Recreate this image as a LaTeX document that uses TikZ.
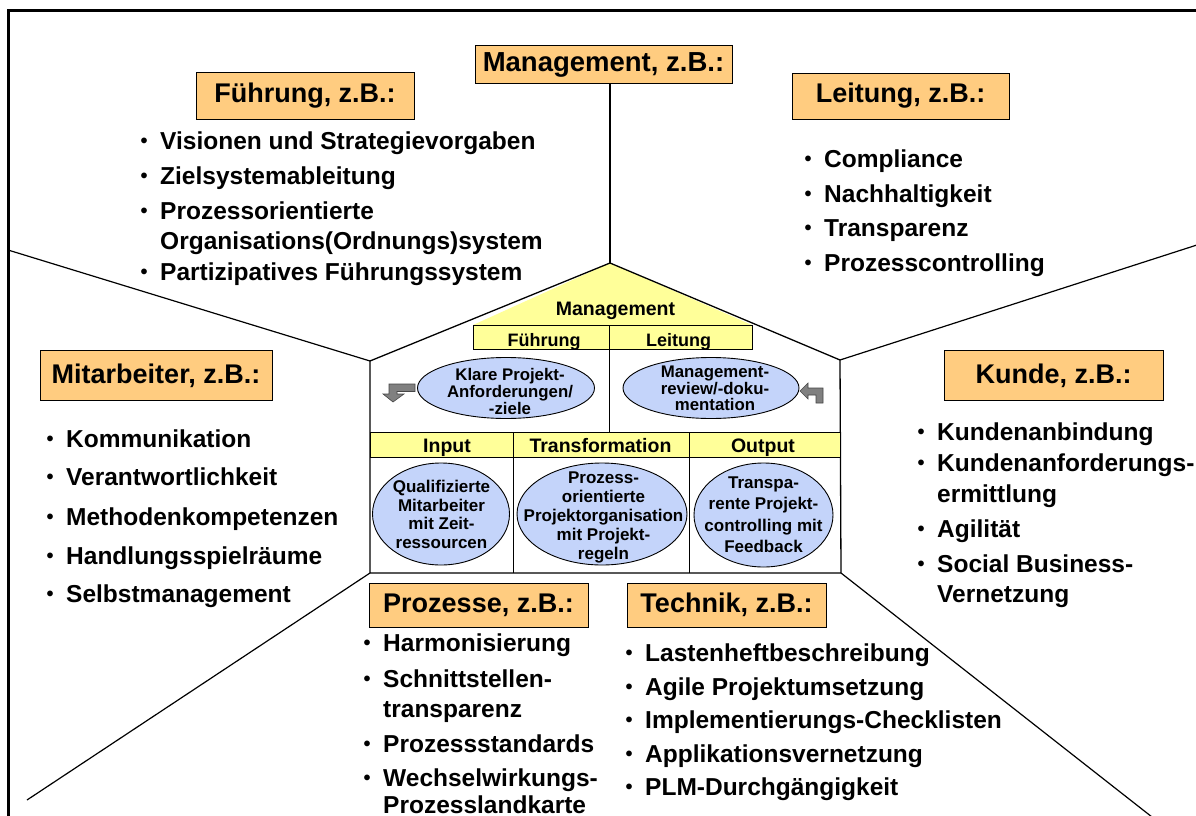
\documentclass[tikz,border=0pt]{standalone}
\usepackage{fontspec}
\setmainfont{Liberation Sans}
\usetikzlibrary{shapes.geometric}
\definecolor{hdorange}{RGB}{255,204,128}
\definecolor{hsyellow}{RGB}{255,255,153}
\definecolor{elblue}{RGB}{196,212,250}
\definecolor{argray}{RGB}{128,128,128}
\definecolor{ardark}{RGB}{70,70,70}
\newcommand{\listline}[4]{\node[litem] (#1) at (#2,#3) {#4};}
\newcommand{\smallbullet}{\raisebox{1.3pt}{\fontsize{20}{20}\selectfont\textbullet}}
\newcommand{\bulletline}[4]{\node[litem] (#1) at (#2,#3) {\llap{\smallbullet\hspace{12.5pt}}#4};}
\tikzset{
  hbox/.style={draw=black, line width=0.8pt, fill=hdorange, inner sep=0pt,
    font=\fontsize{27}{30}\selectfont\bfseries},
  litem/.style={anchor=base west, inner sep=0pt, font=\fontsize{24.5}{28}\selectfont\bfseries},
  ell/.style={ellipse, draw=black, line width=0.9pt, fill=elblue, inner sep=0pt},
  etextA/.style={inner sep=0pt, align=center, font=\fontsize{16.8}{17}\selectfont\bfseries},
  etextB/.style={inner sep=0pt, align=center, font=\fontsize{17}{18.5}\selectfont\bfseries},
  bandtext/.style={anchor=base, inner sep=0pt, font=\fontsize{19.5}{22}\selectfont\bfseries},
  bartext/.style={anchor=base, inner sep=0pt, font=\fontsize{18}{20}\selectfont\bfseries},
  conn/.style={line width=1.2pt},
  house/.style={line width=1.3pt},
  cell/.style={line width=1pt},
  turnarrow/.style={fill=argray, draw=ardark, line width=0.6pt, line join=miter},
}
\begin{document}
\begin{tikzpicture}[x=1pt,y=-1pt]
\useasboundingbox (0,0) rectangle (1196,816);
\begin{scope}
\clip (0,0) rectangle (1196,816);
% frame
\draw[line width=3pt] (8,840) -- (8,11) -- (1220,11);

% house coordinates
\coordinate (apex) at (610,263);
\coordinate (eaveL) at (370,361);
\coordinate (eaveR) at (840,360);
\coordinate (baseL) at (370,573);
\coordinate (baseR) at (841,573);
\coordinate (endL) at (8,250);
\coordinate (endR) at (1200,244);
\coordinate (endBL) at (27,800);
\coordinate (endBR) at (1152,817);

% headings
\node[hbox, minimum width=218, minimum height=47] (hFuehrung) at (305,95.5) {Führung, z.B.:};
\node[hbox, minimum width=257, minimum height=38, font=\fontsize{27.5}{30}\selectfont\bfseries] (hManagement) at (603.5,64.5) {Management, z.B.:};
\node[hbox, minimum width=217, minimum height=46] (hLeitung) at (900.5,96) {Leitung, z.B.:};
\node[hbox, minimum width=232, minimum height=50] (hMitarbeiter) at (156,375.5) {Mitarbeiter, z.B.:};
\node[hbox, minimum width=219, minimum height=50] (hKunde) at (1053.5,375.5) {Kunde, z.B.:};
\node[hbox, minimum width=219, minimum height=44] (hProzesse) at (478.5,605) {Prozesse, z.B.:};
\node[hbox, minimum width=199, minimum height=44] (hTechnik) at (726.5,605) {Technik, z.B.:};

% connectors
\draw[conn] (eaveL) -- (endL);
\draw[conn] (eaveR) -- (endR);
\draw[conn] (baseL) -- (endBL);
\draw[conn] (baseR) -- (endBR);
\draw[conn] (apex) -- (apex |- hManagement.south);

% house
\fill[white] (eaveL) -- (apex) -- (eaveR) -- (baseR) -- (baseL) -- cycle;
\fill[hsyellow] (apex) -- (473,325) -- (752,325) -- cycle;
\draw[house, line join=miter] (eaveL) -- (apex) -- (eaveR) -- (baseR) -- (baseL) -- cycle;
\draw[cell, fill=hsyellow] (473,325) rectangle (752,349);
\draw[cell] (609,325) -- (609,432);
\draw[cell, fill=hsyellow] (370,432) rectangle (840,457);
\draw[cell] (513,432) -- (513,573);
\draw[cell] (689,432) -- (689,573);

\node[bandtext] (tMgmt) at (615.5,315) {Management};
\node[bartext] (tFuehr) at (544,346) {Führung};
\node[bartext] (tLeit) at (678.5,346) {Leitung};
\node[bandtext] (tInput) at (447,452) {Input};
\node[bandtext] (tTrans) at (600.5,452) {Transformation};
\node[bandtext] (tOutput) at (763,452) {Output};

% ellipses
\node[ell, minimum width=177, minimum height=61] (eKlare) at (506,388) {};
\node[etextA] (tKlare) at (510,391) {Klare Projekt-\\Anforderungen/\\-ziele};
\node[ell, minimum width=176, minimum height=61] (eReview) at (711,388) {};
\node[etextA, font=\fontsize{16.8}{16.5}\selectfont\bfseries] (tReview) at (715,388.5) {Management-\\review/-doku-\\mentation};
\node[ell, minimum width=137, minimum height=102] (eQual) at (441,514) {};
\node[etextB] (tQual) at (441.5,514.5) {Qualifizierte\\Mitarbeiter\\mit Zeit-\\ressourcen};
\node[ell, minimum width=170, minimum height=102] (eProz) at (602,514) {};
\node[etextB, font=\fontsize{17}{19}\selectfont\bfseries] (tProz) at (603.5,517.5) {Prozess-\\orientierte\\Projektorganisation\\mit Projekt-\\regeln};
\node[ell, minimum width=139, minimum height=104] (eTrans) at (763.5,515) {};
\node[etextB, font=\fontsize{17}{21.5}\selectfont\bfseries] (tTransp) at (763.5,514.5) {Transpa-\\rente Projekt-\\controlling mit\\Feedback};

% turn arrows
\filldraw[turnarrow] (415,384) -- (389,384) -- (389,394) -- (383,394) -- (393,402) -- (404,394) -- (397,394) -- (397,391.5) -- (415,391.5) -- cycle;
\filldraw[turnarrow] (823,403) -- (823,388) -- (808,388) -- (808,383) -- (800,391) -- (808,399) -- (808,395) -- (816,395) -- (816,403) -- cycle;

% Führung list
\bulletline{f1}{160}{149}{Visionen und Strategievorgaben}
\bulletline{f2}{160}{184}{Zielsystemableitung}
\bulletline{f3}{160}{219}{Prozessorientierte}
\listline{f3b}{160}{249}{Organisations(Ordnungs)system}
\bulletline{f4}{160}{280}{Partizipatives Führungssystem}

% Leitung list
\bulletline{l1}{824}{167}{Compliance}
\bulletline{l2}{824}{202}{Nachhaltigkeit}
\bulletline{l3}{824}{236}{Transparenz}
\bulletline{l4}{824}{271}{Prozesscontrolling}

% Mitarbeiter list
\bulletline{m1}{66}{447}{Kommunikation}
\bulletline{m2}{66}{485}{Verantwortlichkeit}
\bulletline{m3}{66}{525}{Methodenkompetenzen}
\bulletline{m4}{66}{564}{Handlungsspielräume}
\bulletline{m5}{66}{602}{Selbstmanagement}

% Kunde list
\bulletline{k1}{937}{440}{Kundenanbindung}
\bulletline{k2}{937}{471}{Kundenanforderungs-}
\listline{k2b}{937}{502}{ermittlung}
\bulletline{k3}{937}{537}{Agilität}
\bulletline{k4}{937}{572}{Social Business-}
\listline{k4b}{937}{602}{Vernetzung}

% Prozesse list
\bulletline{p1}{383}{651}{Harmonisierung}
\bulletline{p2}{383}{687}{Schnittstellen-}
\listline{p2b}{383}{717}{transparenz}
\bulletline{p3}{383}{752}{Prozessstandards}
\bulletline{p4}{383}{786}{Wechselwirkungs-}
\listline{p4b}{383}{813}{Prozesslandkarte}

% Technik list
\bulletline{t1}{645}{661}{Lastenheftbeschreibung}
\bulletline{t2}{645}{695}{Agile Projektumsetzung}
\bulletline{t3}{645}{728}{Implementierungs-Checklisten}
\bulletline{t4}{645}{762}{Applikationsvernetzung}
\bulletline{t5}{645}{795}{PLM-Durchgängigkeit}
\end{scope}
\end{tikzpicture}
\end{document}
